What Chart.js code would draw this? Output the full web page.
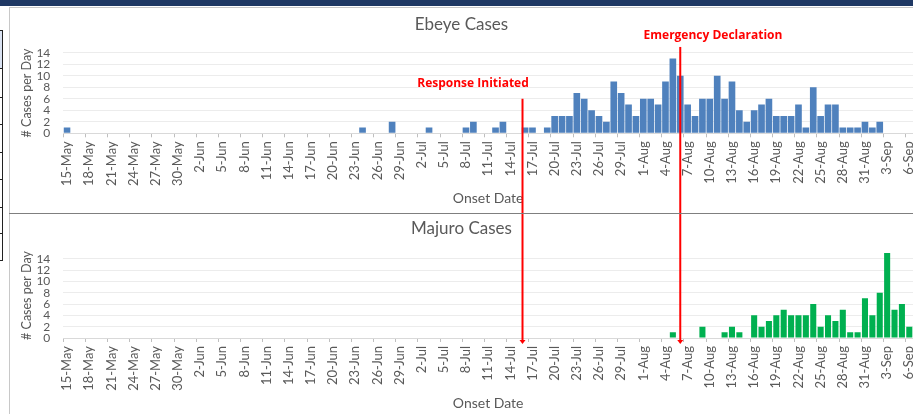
<!DOCTYPE html>
<html>
<head>
<meta charset="utf-8">
<script src="https://cdn.jsdelivr.net/npm/chart.js@4.4.1/dist/chart.umd.min.js"></script>
<style>
  html, body { margin:0; padding:0; width:913px; height:414px; overflow:hidden; background:#fff; }
  body { position:relative; }
  .abs { position:absolute; }
  #band { left:0; top:0; width:913px; height:6px; background:#1f3864; }
  #frameTop { left:9px; top:7px; width:904px; height:1px; background:#c8c8c8; }
  #frameLeft { left:9px; top:7px; width:1px; height:407px; background:#c8c8c8; }
  #sep { left:9px; top:213px; width:904px; height:1px; background:#7f7f7f; }
  #tblV { left:2px; top:30px; width:1px; height:230px; background:#222; }
  #tblFill { left:0; top:30px; width:2px; height:38px; background:#dae3f3; }
  .tblH { left:0; width:3px; height:1px; background:#222; }
  canvas { position:absolute; }
</style>
</head>
<body>
<div id="band" class="abs"></div>
<div id="frameTop" class="abs"></div>
<div id="frameLeft" class="abs"></div>
<div id="tblFill" class="abs"></div>
<div id="tblV" class="abs"></div>
<div class="abs tblH" style="top:30px"></div>
<div class="abs tblH" style="top:68px"></div>
<div class="abs tblH" style="top:97px"></div>
<div class="abs tblH" style="top:124px"></div>
<div class="abs tblH" style="top:152px"></div>
<div class="abs tblH" style="top:179px"></div>
<div class="abs tblH" style="top:207px"></div>
<div class="abs tblH" style="top:233px"></div>
<div class="abs tblH" style="top:260px"></div>
<div id="sep" class="abs"></div>
<canvas id="c1" width="923" height="205" style="left:10px;top:8px;width:923px;height:205px"></canvas>
<canvas id="c2" width="923" height="200" style="left:10px;top:214px;width:923px;height:200px"></canvas>
<script>
// ---------- DATA ----------
const dates = [
  '15-May','16-May','17-May','18-May','19-May','20-May','21-May','22-May','23-May','24-May','25-May','26-May','27-May','28-May','29-May','30-May','31-May',
  '1-Jun','2-Jun','3-Jun','4-Jun','5-Jun','6-Jun','7-Jun','8-Jun','9-Jun','10-Jun','11-Jun','12-Jun','13-Jun','14-Jun','15-Jun','16-Jun','17-Jun','18-Jun','19-Jun','20-Jun','21-Jun','22-Jun','23-Jun','24-Jun','25-Jun','26-Jun','27-Jun','28-Jun','29-Jun','30-Jun',
  '1-Jul','2-Jul','3-Jul','4-Jul','5-Jul','6-Jul','7-Jul','8-Jul','9-Jul','10-Jul','11-Jul','12-Jul','13-Jul','14-Jul','15-Jul','16-Jul','17-Jul','18-Jul','19-Jul','20-Jul','21-Jul','22-Jul','23-Jul','24-Jul','25-Jul','26-Jul','27-Jul','28-Jul','29-Jul','30-Jul','31-Jul',
  '1-Aug','2-Aug','3-Aug','4-Aug','5-Aug','6-Aug','7-Aug','8-Aug','9-Aug','10-Aug','11-Aug','12-Aug','13-Aug','14-Aug','15-Aug','16-Aug','17-Aug','18-Aug','19-Aug','20-Aug','21-Aug','22-Aug','23-Aug','24-Aug','25-Aug','26-Aug','27-Aug','28-Aug','29-Aug','30-Aug','31-Aug',
  '1-Sep','2-Sep','3-Sep','4-Sep','5-Sep','6-Sep'
];

const ebeyeCases = [
  // May 15-31
  1,0,0,0,0,0,0,0,0,0,0,0,0,0,0,0,0,
  // Jun
  0,0,0,0,0,0,0,0,0,0,0,0,0,0,0,0,0,0,0,0,0,0,0,1,0,0,0,2,0,0,
  // Jul
  0,0,1,0,0,0,0,1,2,0,0,1,2,0,0,1,1,0,1,3,3,3,7,6,4,3,2,9,7,5,3,
  // Aug
  6,6,5,9,13,10,5,3,6,6,10,6,9,4,2,4,5,6,3,3,3,5,1,8,3,5,5,1,1,1,2,
  // Sep 1-6
  1,2,0,0,0,0
];

const majuroCases = [
  // May 15-31
  0,0,0,0,0,0,0,0,0,0,0,0,0,0,0,0,0,
  // Jun
  0,0,0,0,0,0,0,0,0,0,0,0,0,0,0,0,0,0,0,0,0,0,0,0,0,0,0,0,0,0,
  // Jul
  0,0,0,0,0,0,0,0,0,0,0,0,0,0,0,0,0,0,0,0,0,0,0,0,0,0,0,0,0,0,0,
  // Aug
  0,0,0,0,1,0,0,0,2,0,0,1,2,1,0,4,2,3,4,5,4,4,4,6,2,4,3,5,1,1,7,
  // Sep 1-6
  4,8,15,5,6,2
];

const yTicks = [0,2,4,6,8,10,12,14];
const markerDates = ['15-Jul', '6-Aug'];
const markerLabels = ['Response Initiated', 'Emergency Declaration'];
const markerShift = [0.65, 0];

// ---------- STYLE ----------
Chart.defaults.font.family = 'Lato';
Chart.defaults.color = '#595959';
const GREY = '#595959';

function markerPlugin(part) {
  return {
    id: 'markers_' + part,
    afterDatasetsDraw(chart) {
      const ctx = chart.ctx, xs = chart.scales.x, ys = chart.scales.y, ca = chart.chartArea;
      const lineTopVals = [6, 15];
      const textDx = [-49.5, 32.7];
      const textDy = [15, 11];
      ctx.save();
      ctx.strokeStyle = '#ff0000';
      ctx.fillStyle = '#ff0000';
      ctx.lineWidth = 2;
      markerDates.forEach((d, i) => {
        const x = xs.getPixelForValue(dates.indexOf(d) + markerShift[i]);
        if (part === 'top') {
          const top = ys.getPixelForValue(lineTopVals[i]);
          ctx.beginPath();
          ctx.moveTo(x, top);
          ctx.lineTo(x, chart.height);
          ctx.stroke();
          ctx.font = 'bold 12px "Open Sans"';
          ctx.textAlign = 'center';
          ctx.textBaseline = 'middle';
          ctx.fillText(markerLabels[i], x + textDx[i], top - textDy[i]);
        } else {
          const tip = ca.bottom + 6;
          ctx.beginPath();
          ctx.moveTo(x, 0);
          ctx.lineTo(x, tip - 3);
          ctx.stroke();
          ctx.beginPath();
          ctx.moveTo(x - 3, tip - 4);
          ctx.lineTo(x + 3, tip - 4);
          ctx.lineTo(x, tip);
          ctx.closePath();
          ctx.fill();
        }
      });
      ctx.restore();
    }
  };
}

function makeChart(id, title, data, color, barPct, yMax, xHeight, titlePad, xTitlePadBottom, part) {
  return new Chart(document.getElementById(id), {
    type: 'bar',
    data: {
      labels: dates,
      datasets: [{
        data: data,
        backgroundColor: color,
        borderWidth: 0,
        barPercentage: barPct,
        categoryPercentage: 1.0
      }]
    },
    options: {
      responsive: false,
      animation: false,
      devicePixelRatio: 1,
      layout: { padding: { left: 0, right: 20, top: 0, bottom: 0 } },
      plugins: {
        legend: { display: false },
        tooltip: { enabled: false },
        title: {
          display: true,
          text: title,
          color: GREY,
          font: { family: 'Lato', size: 17, weight: 'normal' },
          padding: titlePad
        }
      },
      scales: {
        x: {
          offset: true,
          afterFit: (s) => { s.height = xHeight; },
          border: { display: true, color: '#d9d9d9', width: 1 },
          grid: {
            offset: true,
            drawOnChartArea: false,
            drawTicks: true,
            tickLength: 4,
            tickColor: (c) => (c.index % 3 === 0 ? '#bfbfbf' : 'rgba(0,0,0,0)')
          },
          ticks: {
            autoSkip: false,
            minRotation: 90,
            maxRotation: 90,
            padding: 4,
            color: GREY,
            font: { family: 'Lato', size: 13 },
            callback: (v, i) => (i % 3 === 0 ? dates[i] : '')
          },
          title: {
            display: true,
            text: 'Onset Date',
            color: GREY,
            font: { family: 'Lato', size: 14 },
            padding: { top: 0, bottom: xTitlePadBottom }
          }
        },
        y: {
          min: 0,
          max: yMax,
          afterFit: (s) => { s.width = 53.3; },
          afterBuildTicks: (s) => { s.ticks = yTicks.map(v => ({ value: v })); },
          border: { display: false },
          grid: { color: '#ececec', lineWidth: 1, drawTicks: false },
          ticks: {
            autoSkip: false,
            padding: 13,
            color: GREY,
            font: { family: 'Lato', size: 12 }
          },
          title: {
            display: true,
            text: '# Cases per Day',
            color: GREY,
            font: { family: 'Lato', size: 12.5 },
            padding: { top: 9, bottom: 0 }
          }
        }
      }
    },
    plugins: [markerPlugin(part)]
  });
}

makeChart('c1', 'Ebeye Cases', ebeyeCases, '#4f81bd', 0.9, 14, 79.7,
          { top: 6, bottom: 18.3 }, 6.6, 'top');
makeChart('c2', 'Majuro Cases', majuroCases, '#00b050', 0.82, 15, 76,
          { top: 4.8, bottom: 13.8 }, 2.6, 'bottom');
</script>
</body>
</html>
